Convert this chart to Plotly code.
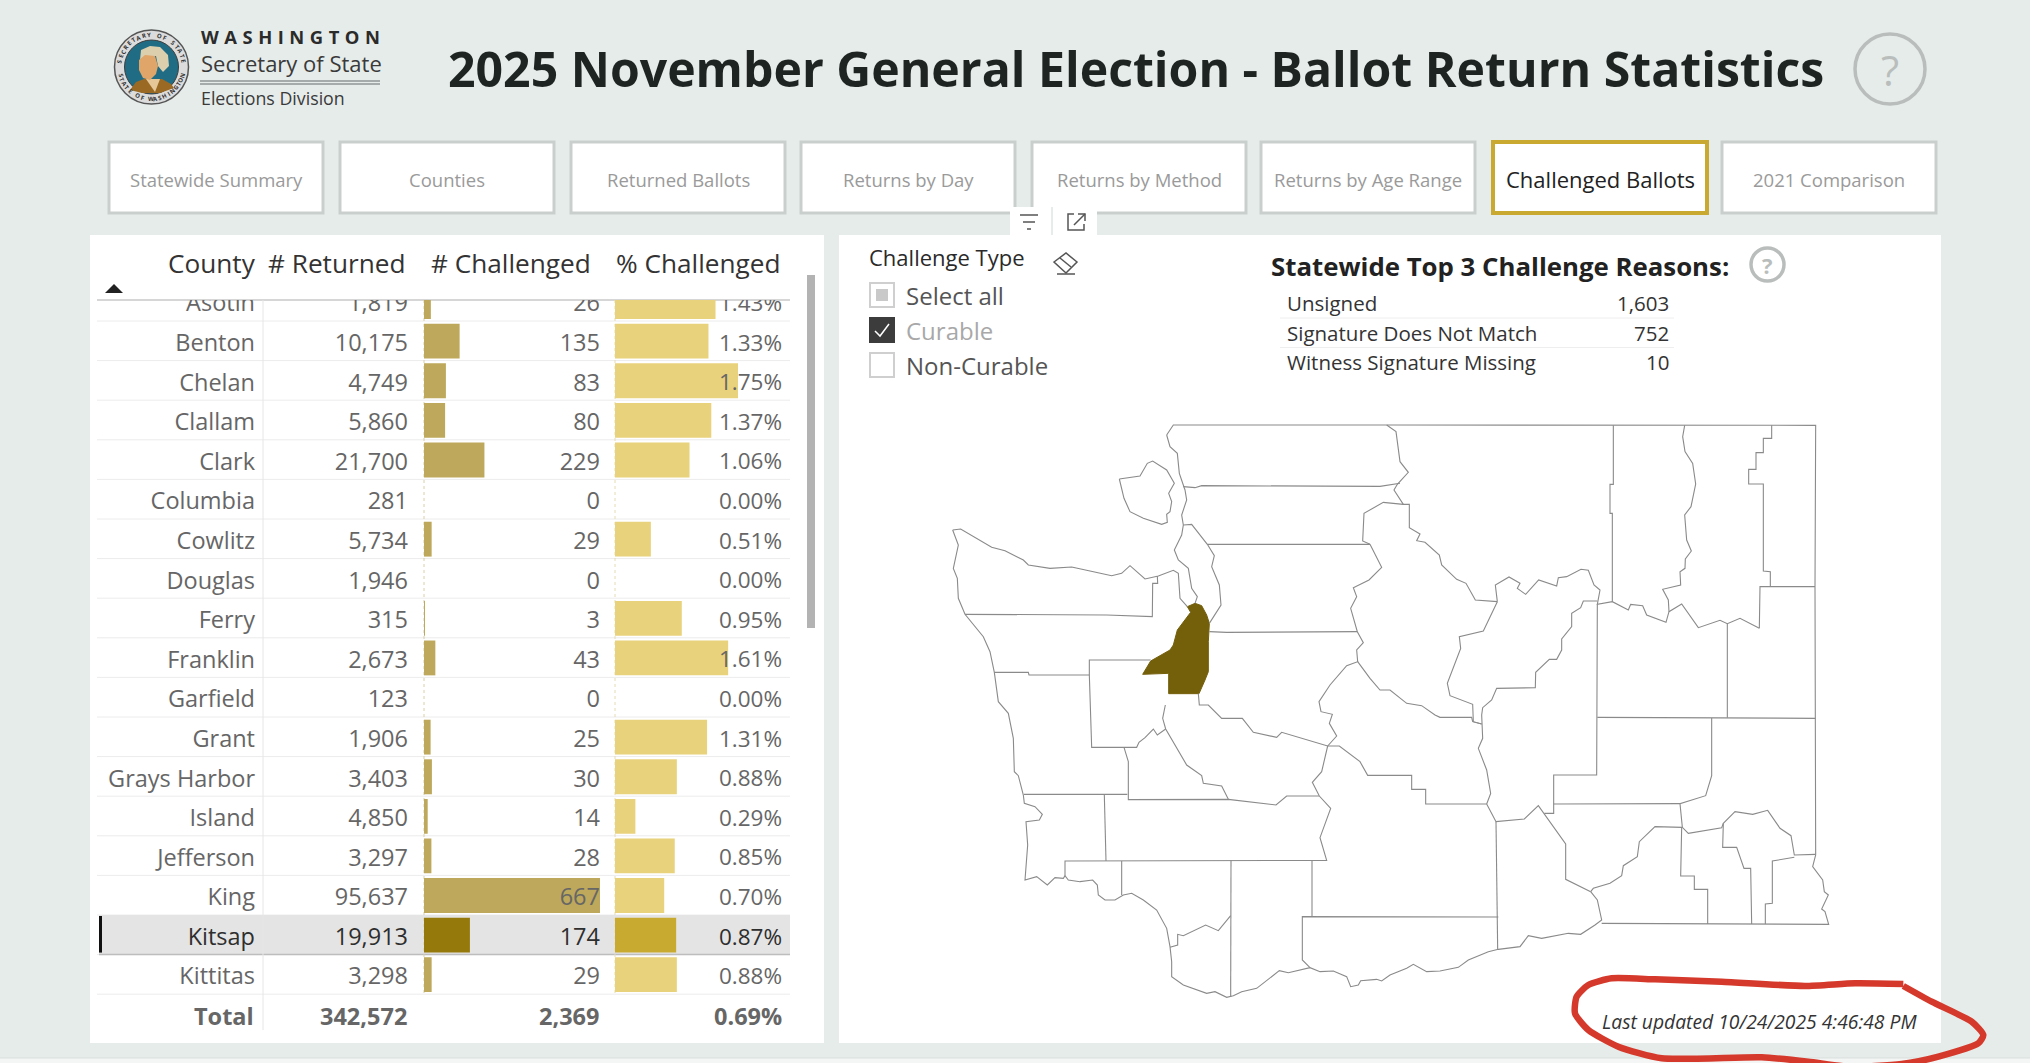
"""
Ballot return statistics dashboard, rebuilt as one Plotly figure.
Table bars sit on their own axes, everything else on a pixel-sized axis.
"""

import math
import plotly.graph_objects as go

W, H = 2030, 1063
FONT = "Open Sans"

# ── Data ─────────────────────────────────────────────────────────────────────

COUNTY = ["Asotin", "Benton", "Chelan", "Clallam", "Clark", "Columbia", "Cowlitz",
          "Douglas", "Ferry", "Franklin", "Garfield", "Grant", "Grays Harbor",
          "Island", "Jefferson", "King", "Kitsap", "Kittitas"]
RETURNED = [1819, 10175, 4749, 5860, 21700, 281, 5734, 1946, 315, 2673, 123, 1906,
            3403, 4850, 3297, 95637, 19913, 3298]
CHALLENGED = [26, 135, 83, 80, 229, 0, 29, 0, 3, 43, 0, 25, 30, 14, 28, 667, 174, 29]
PCT = [1.43, 1.33, 1.75, 1.37, 1.06, 0.00, 0.51, 0.00, 0.95, 1.61, 0.00, 1.31, 0.88,
       0.29, 0.85, 0.70, 0.87, 0.88]
SELECTED = "Kitsap"
TOTAL_LABELS = ["Total", "342,572", "2,369", "0.69%"]
COLUMNS = ["County", "# Returned", "# Challenged", "% Challenged"]

REASONS = ["Unsigned", "Signature Does Not Match", "Witness Signature Missing"]
REASON_COUNTS = [1603, 752, 10]

TABS = ["Statewide Summary", "Counties", "Returned Ballots", "Returns by Day",
        "Returns by Method", "Returns by Age Range", "Challenged Ballots", "2021 Comparison"]
TAB_LEFT = [109, 340, 571, 801, 1032, 1261, 1493, 1722]
ACTIVE_TAB = "Challenged Ballots"
SLICER_ITEMS = ["Select all", "Curable", "Non-Curable"]

# County borders. A string switches to another tracing
# frame, the numbers after it are read in that frame (3x the picture's pixels).
FRAMES = {"a": (940, 415), "b": (1390, 415), "c": (940, 705), "d": (1390, 705)}
KITSAP_OUTLINE = ["a", (765, 565), (785, 572), (800, 600), (808, 625), (805, 680), (805, 770),
                  (795, 795), (777, 836), (686, 836), (686, 775), (608, 778), (632, 738),
                  (690, 705), (700, 690), (712, 645), (735, 615), (752, 592), (742, 575),
                  (765, 565)]
BORDERS = [
    ["a", (538, 192), (600, 183), (622, 145), (638, 138), (680, 165), (703, 205), (686, 235),
     (695, 260), (690, 290), (680, 298), (682, 322), (665, 328), (610, 310), (570, 290),
     (552, 250), (538, 192)],
    ["a", (680, 60), (700, 30), (1345, 30), "b", (670, 31), (884, 31), (1145, 31), (1277, 31),
     (1275, 515), (1275, 900), "d", (1276, 40), (1277, 450), (1268, 485), (1298, 525),
     (1303, 560), (1315, 570), (1295, 612), (1305, 620), (1316, 658), (1126, 657), (953, 657),
     (635, 655)],
    ["a", (680, 60), (690, 95), (712, 115), (718, 175), (735, 225), (740, 255), (725, 300),
     (730, 330), (725, 360), (703, 405), (715, 435), (745, 460), (755, 520), (772, 545),
     (765, 565)],
    ["a", (730, 330), (755, 328), (802, 388), (823, 422), (815, 455), (838, 510), (843, 570),
     (808, 625)],
    ["a", (730, 215), (765, 218), (785, 212), (1190, 214), (1320, 214), (1380, 205)],
    ["a", (802, 388), (1290, 388)],
    ["a", (808, 650), (860, 652), (1252, 650)],
    ["a", (1290, 388), (1268, 378), (1272, 295), (1330, 262), "b", (40, 268), (58, 268),
     (58, 338), (90, 357), (80, 377), (105, 382), (148, 420), (155, 450), (200, 493),
     (228, 505), (256, 555), (322, 560)],
    ["a", (1290, 388), (1325, 457), (1287, 495), (1240, 518), (1250, 545), (1232, 580),
     (1252, 650), (1270, 683), (1250, 705), (1253, 740), (1220, 752), (1170, 810), (1137, 860),
     "c", (1143, 20), (1177, 28), (1168, 55), (1190, 93), (1163, 123)],
    ["b", (-10, 30), (18, 50), (30, 140), (55, 172), (22, 208), (12, 225), (40, 268)],
    ["a", (38, 345), (62, 342), (155, 397), (195, 407), (250, 435), (265, 450), (330, 460),
     (395, 456), (450, 468), (515, 482), (545, 475), (570, 452), (615, 492), (655, 483),
     (700, 466), (715, 475), (720, 550), (742, 575)],
    ["a", (652, 483), (653, 505), (638, 505), (637, 605), (500, 600), (75, 598)],
    ["a", (38, 345), (55, 390), (40, 460), (52, 490), (55, 550), (75, 598), (130, 665), (150, 710),
     (163, 772), (175, 860), "c", (205, 25), (220, 100), (223, 200), (235, 212), (250, 270),
     (253, 295), (285, 305), (307, 328), (298, 345), (258, 350), (263, 420), (255, 525),
     (290, 515), (322, 540), (345, 518), (370, 520), (375, 512), (385, 525), (420, 530),
     (458, 525), (472, 540), (475, 570), (495, 585), (525, 585), (550, 570), (575, 565),
     (610, 585), (650, 615), (680, 670), (690, 725), (695, 770), (695, 815), (730, 840),
     (800, 865), (825, 860), (860, 877), (880, 872), (905, 860), (950, 850), (995, 815),
     (1018, 797), (1045, 803), (1110, 788), (1140, 800), (1180, 798), (1220, 815), (1232, 845),
     (1255, 840), (1262, 827), (1310, 823), (1325, 828), "d", (0, 810), (50, 790), (70, 778),
     (110, 800), (150, 798), (205, 787), (235, 765), (295, 740), (325, 733), (390, 725),
     (415, 692), (455, 700), (535, 685), (572, 688), (615, 660), (635, 645), (622, 585),
     (602, 560)],
    ["a", (163, 772), (265, 772), (267, 780), (448, 780)],
    ["a", (632, 735), (448, 735), (448, 780), "c", (450, 0), (455, 127), (590, 127), (597, 112),
     (615, 98), (640, 72), (652, 90), (677, 72)],
    ["c", (676, 0), (668, 40), (677, 72), (710, 130), (740, 180), (785, 212), (790, 235),
     (845, 243), (865, 283)],
    ["a", (775, 836), (778, 870), "c", (805, 0), (845, 40), (907, 40), (940, 82), (1010, 97),
     (1025, 82), (1163, 123), (1198, 123), (1260, 170), (1283, 211), "d", (65, 211), (65, 253),
     (107, 253), (107, 297), (290, 297)],
    ["c", (1163, 123), (1145, 200), (1117, 232), (1138, 273), (1172, 310), (1140, 398), (1160, 466),
     (375, 468), (375, 512)],
    ["c", (252, 268), (562, 268)],
    ["c", (552, 127), (565, 170), (565, 284), (865, 283), (1008, 300), (1040, 273), (1138, 273)],
    ["c", (493, 270), (498, 468)],
    ["c", (545, 468), (545, 570)],
    ["c", (873, 466), (873, 632), (872, 875)],
    ["c", (1116, 466), (1116, 635)],
    ["c", (1110, 788), (1087, 765), (1087, 635), "d", (325, 636)],
    ["c", (872, 632), (835, 677), (797, 660), (730, 692), (713, 688), (713, 720), (690, 727)],
    ["a", (1253, 740), (1290, 790), (1320, 825), "b", (0, 825), (50, 865), (95, 872), (135, 900),
     "d", (150, 37), (245, 37), (248, 50), (275, 57)],
    ["b", (670, 31), (670, 208), (660, 208), (660, 295), (667, 295), (667, 560)],
    ["b", (884, 31), (878, 65), (885, 110), (908, 145), (917, 207), (903, 275), (884, 300),
     (890, 375), (904, 408), (886, 432), (885, 460), (870, 470), (872, 510), (818, 523),
     (835, 555), (837, 590)],
    ["b", (1145, 31), (1145, 70), (1120, 70), (1120, 113), (1098, 113), (1098, 163), (1076, 163),
     (1076, 207), (1120, 207), (1120, 468), (1141, 470), (1141, 515)],
    ["b", (1275, 515), (1110, 515), (1108, 640)],
    ["b", (322, 560), (316, 510), (357, 486), (390, 505), (382, 520), (407, 538), (446, 495),
     (500, 513), (505, 488), (530, 485), (573, 463), (595, 466), (612, 510), (630, 525),
     (622, 568), (667, 560), (715, 585), (722, 568), (758, 572), (770, 600), (828, 622),
     (837, 590), (875, 567), (925, 638), (990, 616), (1012, 626), (1050, 610), (1108, 640)],
    ["b", (1012, 626), (1012, 900), "d", (1012, 38)],
    ["b", (622, 568), (622, 900), "d", (622, 37), (620, 210), (491, 210), (491, 325), (463, 325)],
    ["b", (622, 558), (580, 558), (572, 578), (545, 595), (545, 635), (515, 672), (515, 705),
     (500, 733), (478, 733), (437, 772), (436, 818), (320, 820), (305, 855), (278, 878), "d",
     (275, 30), (278, 100), (265, 130), (290, 195), (302, 265), (290, 297), (318, 350), (403, 342),
     (445, 302), (527, 417), (527, 523), (602, 560)],
    ["b", (322, 560), (280, 648), (208, 665), (212, 700), (172, 805), (180, 842), (248, 868),
     "d", (248, 30), (250, 50), (275, 57)],
    ["d", (622, 37), (965, 39), (1276, 40)],
    ["d", (965, 39), (965, 212), (947, 272), (870, 296), (877, 367), (895, 385), (995, 368),
     (1000, 355), (1035, 320), (1088, 328), (1133, 316), (1170, 370), (1203, 392), (1213, 450),
     (1277, 448)],
    ["d", (870, 296), (491, 297)],
    ["d", (877, 367), (795, 365), (748, 410), (742, 455), (700, 482), (695, 512), (660, 535),
     (610, 550), (602, 560)],
    ["d", (875, 367), (872, 513), (913, 513), (913, 553), (953, 553), (953, 657)],
    ["d", (1000, 355), (998, 427), (1040, 427), (1062, 490), (1082, 490), (1085, 657)],
    ["d", (1213, 457), (1147, 468), (1147, 595), (1126, 597), (1126, 657)],
    ["d", (318, 350), (323, 733)],
]

# Hand-drawn red ring around the timestamp, traced the same way
FRAMES["e"] = (1555, 960)
RED_RING = ["e", (1045, 72), (900, 70), (750, 78), (500, 65), (300, 58), (170, 55), (100, 75),
            (65, 110), (60, 160), (100, 210), (190, 260), (320, 295), (620, 292), (760, 305),
            (880, 320), (1040, 312), (1150, 290), (1270, 250), (1285, 225), (1250, 185),
            (1130, 125), (1045, 78)]

# ── Pixel helpers ────────────────────────────────────────────────────────────

BG = "#e6ecea"
GREY_TEXT = "#666666"
ROW_TOP = 281.4
ROW_H = 39.6
TABLE_TOP, TABLE_BOTTOM = 300, 994.5
TEXT_DROP = 3.9 / ROW_H  # scatter text sits a little high in its row


def fx(x):
    return x / W


def fy(y):
    return 1 - y / H


def traced(points):
    xs, ys, frame = [], [], None
    for p in points:
        if isinstance(p, str):
            frame = FRAMES[p]
        else:
            xs.append(frame[0] + p[0] / 3)
            ys.append(frame[1] + p[1] / 3)
    return xs, ys


shapes = []
annotations = []


def rect(x0, y0, x1, y1, fill="rgba(0,0,0,0)", line=None, lw=1):
    shapes.append(dict(type="rect", xref="paper", yref="paper", layer="below",
                       x0=fx(x0), x1=fx(x1), y0=fy(y1), y1=fy(y0), fillcolor=fill,
                       line=dict(color=line or fill, width=lw if line else 0)))


def circle(cx, cy, r, fill="rgba(0,0,0,0)", line=None, lw=1):
    shapes.append(dict(type="circle", xref="paper", yref="paper", layer="below",
                       x0=fx(cx - r), x1=fx(cx + r), y0=fy(cy + r), y1=fy(cy - r), fillcolor=fill,
                       line=dict(color=line or fill, width=lw if line else 0)))


def hline(x0, x1, y, color, lw=1, dash="solid"):
    shapes.append(dict(type="line", xref="paper", yref="paper", layer="below",
                       x0=fx(x0), x1=fx(x1), y0=fy(y), y1=fy(y), line=dict(color=color, width=lw, dash=dash)))


def vline(x, y0, y1, color, lw=1, dash="solid"):
    shapes.append(dict(type="line", xref="paper", yref="paper", layer="below",
                       x0=fx(x), x1=fx(x), y0=fy(y0), y1=fy(y1), line=dict(color=color, width=lw, dash=dash)))


def poly(points, fill="rgba(0,0,0,0)", line=None, lw=1, close=True):
    d = "M " + " L ".join(f"{fx(x):.5f},{fy(y):.5f}" for x, y in points) + (" Z" if close else "")
    shapes.append(dict(type="path", xref="paper", yref="paper", layer="below", path=d, fillcolor=fill,
                       line=dict(color=line or fill, width=lw if line else 0)))


def label(x, y, text, size, color="#222222", anchor="left", bold=False, italic=False, angle=0, font=FONT):
    if bold:
        text = f"<b>{text}</b>"
    if italic:
        text = f"<i>{text}</i>"
    annotations.append(dict(x=fx(x), y=fy(y), xref="paper", yref="paper", text=text, showarrow=False,
                            xanchor=anchor, yanchor="middle", textangle=angle, borderpad=0,
                            font=dict(family=font, size=size, color=color)))


# ── Page chrome ──────────────────────────────────────────────────────────────

rect(0, 1058, W, H, fill="#f4f6f5")
hline(0, W, 1058, "#d9dfdd", 1)

# seal
circle(151.5, 67, 37, fill="#dcdcdc", line="#555555", lw=1.5)
circle(151.5, 67, 27, fill="#1f6c84", line="#3c3c3c", lw=1)
poly([(130, 90), (136, 82), (144, 79), (162, 79), (171, 84), (174, 88), (160, 93), (142, 93)], fill="#9a6a24")
poly([(146, 79), (160, 79), (155, 92)], fill="#e5c79a")
poly([(140, 60), (141, 50), (150, 46), (160, 47), (168, 55), (169, 66), (163, 72), (158, 66), (156, 56),
      (145, 56)], fill="#dccfae")
poly([(139, 60), (145, 55), (155, 56), (158, 66), (156, 74), (150, 80), (143, 78), (139, 70)], fill="#dfa569")
for txt, start, step, flip in [("SECRETARY OF STATE", -170, 9.4, False), ("STATE OF WASHINGTON", 165, -8.3, True)]:
    for i, ch in enumerate(txt):
        a = start + i * step
        r = 32
        rot = a + 90 + (180 if flip else 0)
        label(151.5 + r * math.cos(math.radians(a)), 67 + r * math.sin(math.radians(a)), ch, 6,
              "#333333", "center", bold=True, angle=rot)

label(200, 37, "\u200a\u200a\u200a".join("WASHINGTON"), 18.4, "#2b2b2b", bold=True)
label(200, 63, "Secretary of State", 22, "#3a3a3a")
hline(200, 380, 81, "#8f9694", 1.5)
hline(200, 380, 84, "#8f9694", 1.5)
label(200, 98, "Elections Division", 17.8, "#3a3a3a")

label(447, 68, "2025 November General Election - Ballot Return Statistics", 48.2, "#1e2422", bold=True)
circle(1890, 69, 35, fill="rgba(0,0,0,0)", line="#b9bebc", lw=3.5)
label(1890, 69, "?", 42, "#b9bebc", "center")

for name, left in zip(TABS, TAB_LEFT):
    on = name == ACTIVE_TAB
    rect(left, 142, left + 214, 213, fill="#ffffff", line="#c9a92f" if on else "#c9cfcd", lw=4 if on else 3)
    label(left + 107, 179, name, 22 if on else 18.5, "#222222" if on else "#9a9a9a", "center")

# table panel
rect(90, 235, 824, 1043, fill="#ffffff")
for name, x in zip(COLUMNS, [257, 406, 592, 782]):
    label(x, 263, name, 26.2, "#333333", "right")
poly([(105, 293), (114, 284), (123, 293)], fill="#222222")
rect(807, 275, 815, 628, fill="#b3b3b3")

hline(97, 790, TABLE_TOP, "#c8c8c8", 1.5)
for i in range(len(COUNTY)):
    hline(97, 790, ROW_TOP + (i + 1) * ROW_H, "#ececec", 1)
sel = COUNTY.index(SELECTED)
rect(99, ROW_TOP + sel * ROW_H, 790, ROW_TOP + (sel + 1) * ROW_H, fill="#e4e4e4")
hline(99, 790, ROW_TOP + (sel + 1) * ROW_H, "#bdbdbd", 1.5)
rect(99, ROW_TOP + sel * ROW_H + 1, 102, ROW_TOP + (sel + 1) * ROW_H - 2, fill="#111111")
vline(263, TABLE_TOP, 1030, "#e6e6e6", 1)
vline(424, TABLE_TOP, TABLE_BOTTOM, "#d8d0a8", 1, "dot")
vline(615, TABLE_TOP, TABLE_BOTTOM, "#e4dcb4", 1, "dot")
for x, txt in zip([255, 408, 600, 783], TOTAL_LABELS):
    label(x, 1016, txt, 23.5, GREY_TEXT, "right", bold=True)

# map panel
rect(839, 235, 1941, 1043, fill="#ffffff")
rect(1010, 207, 1097, 236, fill="#ffffff")
vline(1052, 207, 235, "#e6ecea", 2)
for y, x0, x1 in [(215, 1020, 1038), (222, 1023, 1035), (229, 1027, 1031)]:
    hline(x0, x1, y, "#555555", 1.5)
poly([(1074, 214), (1068, 214), (1068, 230), (1084, 230), (1084, 224)], line="#555555", lw=1.5, close=False)
poly([(1078, 214), (1085, 214), (1085, 221)], line="#555555", lw=1.5, close=False)
poly([(1074, 225), (1085, 214)], line="#555555", lw=1.5, close=False)

label(868, 257, "Challenge Type", 22, "#2a2a2a")
poly([(1054, 262), (1066, 253), (1077, 262), (1066, 273)], line="#555555", lw=1.5)
poly([(1060, 258), (1071, 267)], line="#555555", lw=1.5, close=False)
hline(1057, 1075, 274, "#555555", 1.5)

for i, item in enumerate(SLICER_ITEMS):
    y0 = 283 + i * 35
    checked = item == "Curable"
    rect(870, y0, 894, y0 + 24, fill="#3c3c3c" if checked else "#ffffff", line="#3c3c3c" if checked else "#cfcfcf", lw=2)
    if item == "Select all":
        rect(876, y0 + 6, 888, y0 + 18, fill="#c9c9c9")
    if checked:
        poly([(875, y0 + 13), (880, y0 + 18), (889, y0 + 6)], line="#ffffff", lw=1.5, close=False)
    label(905, y0 + 12, item, 24, "#a8a8a8" if checked else "#555555")

label(1270, 266, "Statewide Top 3 Challenge Reasons:", 25.8, "#222222", bold=True)
circle(1767.5, 264.5, 16.5, line="#b9bebc", lw=3.5)
label(1767.5, 264.5, "?", 22, "#b9bebc", "center", bold=True)
for i, (reason, n) in enumerate(zip(REASONS, REASON_COUNTS)):
    y = 303 + i * 29.5
    label(1286, y, reason, 20.5, "#333333")
    label(1670, y, f"{n:,}", 20.5, "#333333", "right")
    if i < 2:
        hline(1280, 1674, y + 15, "#eeeeee", 1)

# ── Traces ───────────────────────────────────────────────────────────────────

fig = go.Figure()

is_sel = [c == SELECTED for c in COUNTY]
fig.add_trace(go.Bar(x=CHALLENGED, y=COUNTY, orientation="h", width=0.88, xaxis="x", yaxis="y",
                     marker=dict(color=["#96790b" if s else "#bda85b" for s in is_sel], line_width=0),
                     hoverinfo="skip"))
fig.add_trace(go.Bar(x=PCT, y=COUNTY, orientation="h", width=0.88, xaxis="x2", yaxis="y",
                     marker=dict(color=["#c9aa30" if s else "#e8d27b" for s in is_sel], line_width=0),
                     hoverinfo="skip"))

map_x, map_y = [], []
for border in BORDERS:
    xs, ys = traced(border)
    map_x += xs + [None]
    map_y += ys + [None]
kx, ky = traced(KITSAP_OUTLINE)
fig.add_trace(go.Scatter(x=kx, y=ky, mode="lines", fill="toself", fillcolor="#745f0a", xaxis="x3", yaxis="y2",
                         line=dict(color="#745f0a", width=1), hoverinfo="skip"))
fig.add_trace(go.Scatter(x=map_x, y=map_y, mode="lines", xaxis="x3", yaxis="y2",
                         line=dict(color="#8a8a8a", width=1.1), hoverinfo="skip"))
rx, ry = traced(RED_RING)
fig.add_trace(go.Scatter(x=rx, y=ry, mode="lines", xaxis="x3", yaxis="y2",
                         line=dict(color="#d5392b", width=6.5, shape="spline", smoothing=0.6), hoverinfo="skip"))

columns = [([255] * len(COUNTY), COUNTY, 23.5),
           ([408] * len(COUNTY), [f"{v:,}" for v in RETURNED], 23.5),
           ([600] * len(COUNTY), [f"{v:,}" for v in CHALLENGED], 23.5),
           ([782] * len(COUNTY), [f"{v:.2f}%" for v in PCT], 22.5)]
for xs, txt, size in columns:
    fig.add_trace(go.Scatter(x=xs, y=COUNTY, text=txt, mode="text", textposition="middle left",
                             xaxis="x3", yaxis="y3", hoverinfo="skip",
                             textfont=dict(family=FONT, size=size,
                                           color=["#2e2e2e" if s else GREY_TEXT for s in is_sel])))

label(1601, 1021, "Last updated 10/24/2025 4:46:48 PM", 19.3, "#333333", italic=True)

hidden = dict(visible=False, showgrid=False, zeroline=False, fixedrange=True)
table_y = dict(domain=[fy(TABLE_BOTTOM), fy(TABLE_TOP)], type="category", categoryorder="array",
               categoryarray=COUNTY, **hidden)
fig.update_layout(
    width=W, height=H, margin=dict(l=0, r=0, t=0, b=0), autosize=False,
    paper_bgcolor=BG, plot_bgcolor="rgba(0,0,0,0)", showlegend=False, barmode="overlay",
    font=dict(family=FONT),
    shapes=shapes, annotations=annotations,
    xaxis=dict(domain=[fx(424), fx(600)], range=[0, 667], anchor="y", **hidden),
    xaxis2=dict(domain=[fx(615), fx(738)], range=[0, 1.75], anchor="y", **hidden),
    xaxis3=dict(domain=[0, 1], range=[0, W], anchor="y2", **hidden),
    yaxis=dict(range=[17.5, -0.04], anchor="x", **table_y),
    yaxis2=dict(domain=[0, 1], range=[H, 0], anchor="x3", **hidden),
    yaxis3=dict(range=[17.5 - TEXT_DROP, -0.04 - TEXT_DROP], anchor="x3", **table_y),
)

fig.write_html("out.html", config={"displayModeBar": False},
               post_script="document.body.style.margin='0';document.body.style.overflow='hidden';")
